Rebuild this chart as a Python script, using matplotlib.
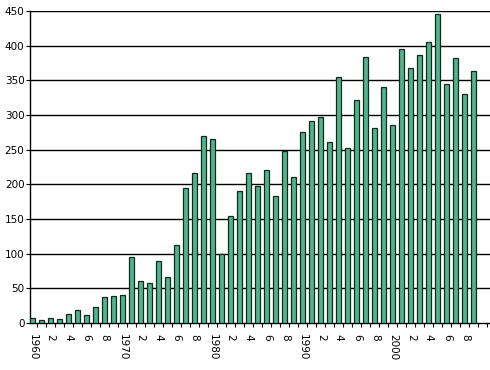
import matplotlib
matplotlib.use("Agg")
import matplotlib.pyplot as plt
import numpy as np

years = list(range(1960, 2010))
values = [7, 5, 7, 6, 13, 19, 11, 23, 38, 39,
          40, 95, 61, 58, 90, 67, 112, 195, 216, 269,
          265, 100, 154, 190, 216, 197, 220, 183, 248, 210,
          275, 291, 297, 261, 355, 252, 321, 383, 281, 340,
          285, 395, 368, 387, 406, 445, 344, 382, 330, 364]
yticks = list(range(0, 451, 50))
xlabels = [str(y) if y % 10 == 0 else str(y % 10) for y in years]

fig = plt.figure(figsize=(4.9, 3.7), dpi=100)
ax = fig.add_axes([30/490, (370-323)/370, 460/490, 312/370])

x = np.arange(len(years))
ax.bar(x, values, width=0.55, color='#52b38d', edgecolor='#0f2a20', linewidth=0.9, zorder=3)

for v in yticks[1:]:
    ax.axhline(v, color='black', linewidth=1.0, zorder=1)

ax.set_xlim(-0.3, 50.8)
ax.set_ylim(0, 450)
ax.set_yticks(yticks)
ax.set_yticklabels([str(v) for v in yticks], fontsize=7.5)

idx = [i for i, y in enumerate(years) if y % 2 == 0]
ax.set_xticks(idx)
ax.set_xticklabels([xlabels[i] for i in idx], rotation=270, fontsize=7.5)
ax.set_xticks(np.arange(0.5, 51, 1.0), minor=True)
ax.tick_params(axis='x', which='major', length=0, pad=8)
ax.tick_params(axis='x', which='minor', length=3, width=0.8, direction='out')
ax.tick_params(axis='y', length=3, width=0.8, pad=1)

for s in ['top', 'right']:
    ax.spines[s].set_visible(False)
ax.spines['left'].set_linewidth(1.0)
ax.spines['bottom'].set_linewidth(1.0)

fig.savefig("out.png", dpi=100)
